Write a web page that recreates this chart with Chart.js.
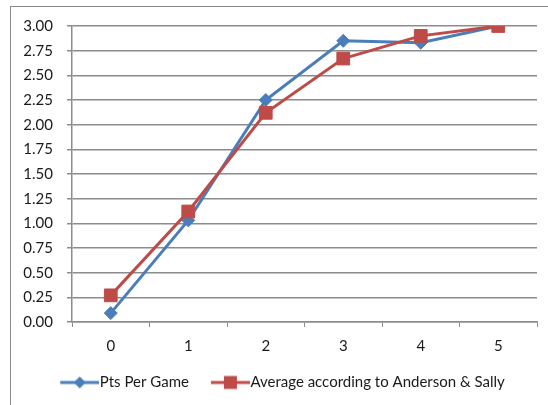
<!DOCTYPE html>
<html>
<head>
<meta charset="utf-8">
<script src="https://cdn.jsdelivr.net/npm/chart.js@4"></script>
<style>
  html, body { margin: 0; padding: 0; background: #fff; overflow: hidden; }
  #wrap { position: relative; width: 548px; height: 405px; overflow: hidden; }
  #frame { position: absolute; left: 10px; top: 6px; width: 600px; height: 500px; border: 1px solid #8a8a8a; }
  #c { position: absolute; left: 0; top: 0; }
</style>
</head>
<body>
<div id="wrap">
  <div id="frame"></div>
  <canvas id="c" width="548" height="405"></canvas>
</div>
<script>
// data
const categories = ['0', '1', '2', '3', '4', '5'];
const ptsPerGame = [0.09, 1.03, 2.25, 2.85, 2.83, 3.00];
const andersonSally = [0.27, 1.12, 2.12, 2.67, 2.90, 3.00];
const seriesNames = ['Pts Per Game', 'Average according to Anderson & Sally'];

const blue = '#4A7EBB';
const red = '#BE4B48';
const gridGray = '#8c8c8c';
const fontFamily = 'Lato, "Open Sans", sans-serif';
const padLeft = 18;

// legend icon: a short line with the marker on it
// (wider than the legend box so it runs up to the text)
function legendIcon(color, shape) {
  const c = document.createElement('canvas');
  c.width = 46;
  c.height = 16;
  const ctx = c.getContext('2d');
  ctx.strokeStyle = color;
  ctx.lineWidth = 3;
  ctx.beginPath();
  ctx.moveTo(7, 8);
  ctx.lineTo(46, 8);
  ctx.stroke();
  ctx.fillStyle = color;
  ctx.beginPath();
  if (shape == 'diamond') {
    ctx.moveTo(26.5, 2);
    ctx.lineTo(32.5, 8);
    ctx.lineTo(26.5, 14);
    ctx.lineTo(20.5, 8);
    ctx.closePath();
  } else {
    ctx.rect(20, 1.5, 13, 13);
  }
  ctx.fill();
  return c;
}
const icons = [legendIcon(blue, 'diamond'), legendIcon(red, 'square')];

// move the legend a little to the right, like the original
const legendNudge = {
  id: 'legendNudge',
  afterLayout: function(chart) {
    chart.legend.left += 5;
    chart.legend.right += 5;
  }
};

const data = {
  labels: categories,
  datasets: [{
    label: seriesNames[0],
    data: ptsPerGame,
    borderColor: blue,
    backgroundColor: blue,
    borderWidth: 3,
    pointStyle: 'rectRot',
    pointRadius: 6.5,
    pointHoverRadius: 6.5,
    pointBorderWidth: 1,
    tension: 0,
    order: 2,
  }, {
    label: seriesNames[1],
    data: andersonSally,
    borderColor: red,
    backgroundColor: red,
    borderWidth: 3,
    pointStyle: 'rect',
    pointRadius: 9,
    pointHoverRadius: 9,
    pointBorderWidth: 1,
    tension: 0,
    order: 1,
  }]
};

const config = {
  type: 'line',
  data: data,
  plugins: [legendNudge],
  options: {
    responsive: false,
    animation: false,
    devicePixelRatio: 1,
    layout: {
      padding: { left: padLeft, right: 11, top: 26, bottom: 5 }
    },
    plugins: {
      legend: {
        position: 'bottom',
        labels: {
          usePointStyle: true,
          pointStyleWidth: 32,
          padding: 22,
          color: '#1a1a1a',
          font: { family: fontFamily, size: 15 },
          sort: function(a, b) { return a.datasetIndex - b.datasetIndex; },
          generateLabels: function(chart) {
            const items = Chart.defaults.plugins.legend.labels.generateLabels(chart);
            items.forEach(function(it) { it.pointStyle = icons[it.datasetIndex]; });
            return items;
          }
        }
      },
      tooltip: { enabled: false }
    },
    scales: {
      x: {
        offset: true,
        grid: {
          offset: true,
          drawOnChartArea: false,
          color: gridGray,
          tickLength: 5,
        },
        border: { color: gridGray, width: 1.5 },
        ticks: {
          color: '#1a1a1a',
          padding: 10,
          font: { family: fontFamily, size: 15 }
        },
        afterFit: function(scale) { scale.height = 31; }
      },
      y: {
        min: 0,
        max: 3,
        grid: {
          color: gridGray,
          lineWidth: 1.5,
          tickLength: 5,
        },
        border: { color: gridGray, width: 1.5 },
        ticks: {
          stepSize: 0.25,
          color: '#1a1a1a',
          padding: 14,
          font: { family: fontFamily, size: 15 },
          callback: function(value) { return value.toFixed(2); }
        },
        afterFit: function(scale) { scale.width = 72 - padLeft; }
      }
    }
  }
};

const myChart = new Chart(document.getElementById('c'), config);
</script>
</body>
</html>
